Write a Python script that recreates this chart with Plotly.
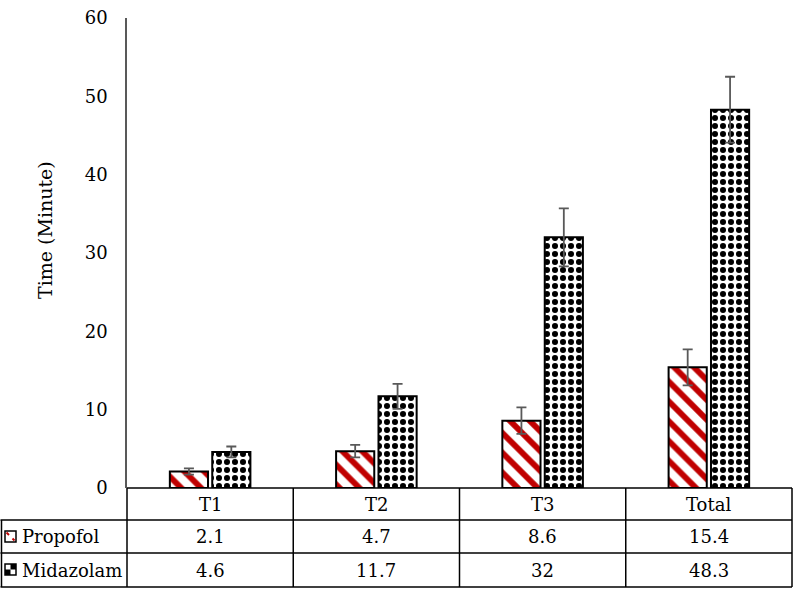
import plotly.graph_objects as go

categories = ["T1", "T2", "T3", "Total"]
propofol = [2.1, 4.7, 8.6, 15.4]
midazolam = [4.6, 11.7, 32, 48.3]
propofol_err = [0.4, 0.8, 1.7, 2.3]
midazolam_err = [0.7, 1.6, 3.7, 4.2]
y_ticks = [0, 10, 20, 30, 40, 50, 60]
series_names = ["Propofol", "Midazolam"]
y_title = "Time (Minute)"

FONT = "DejaVu Serif"
TXT = 18

W, H = 794, 598
L, R, T, B = 127, 2, 18, 110
PW, PH = W - L - R, H - T - B


def px(x):
    return (x - L) / PW


def py(y):
    return (H - B - y) / PH


fig = go.Figure()
fig.add_trace(go.Bar(
    x=categories, y=propofol, name=series_names[0], showlegend=False,
    marker=dict(color="white", line=dict(color="black", width=2),
                pattern=dict(shape="\\", fgcolor="#C00000", bgcolor="white",
                             fgopacity=1, size=14, solidity=0.42,
                             fillmode="overlay")),
    error_y=dict(type="data", array=propofol_err, color="#595959",
                 thickness=1.8, width=5),
))
fig.add_trace(go.Bar(
    x=categories, y=midazolam, name=series_names[1], showlegend=False,
    marker=dict(color="white", line=dict(color="black", width=2),
                pattern=dict(shape=".", fgcolor="black", bgcolor="white",
                             fgopacity=1, size=8, solidity=0.45,
                             fillmode="overlay")),
    error_y=dict(type="data", array=midazolam_err, color="#595959",
                 thickness=1.8, width=5),
))

# table grid
row_px = [488, 520, 553, 587]
row_y = [py(v) for v in row_px]
shapes = []
line = dict(color="black", width=1.5)
shapes.append(dict(type="line", xref="paper", yref="paper", x0=0, x1=1,
                   y0=0, y1=0, line=line))
for yy in row_y[1:]:
    shapes.append(dict(type="line", xref="paper", yref="paper",
                       x0=px(0.5), x1=1, y0=yy, y1=yy, line=line))
for k in range(len(categories) + 1):
    shapes.append(dict(type="line", xref="paper", yref="paper",
                       x0=k / len(categories), x1=k / len(categories),
                       y0=0, y1=row_y[-1], line=line))
shapes.append(dict(type="line", xref="paper", yref="paper",
                   x0=px(1.5), x1=px(1.5),
                   y0=row_y[1], y1=row_y[-1], line=line))

# legend keys inside the table
kx0, kx1 = px(5), px(16)
k1y0, k1y1 = py(542), py(531)
shapes.append(dict(type="rect", xref="paper", yref="paper", x0=kx0, x1=kx1,
                   y0=k1y0, y1=k1y1, fillcolor="white",
                   line=dict(color="black", width=1.5)))
shapes.append(dict(type="line", xref="paper", yref="paper",
                   x0=px(6.5), x1=px(9), y0=py(532.5), y1=py(535),
                   line=dict(color="#C00000", width=2)))
shapes.append(dict(type="line", xref="paper", yref="paper",
                   x0=px(12.5), x1=px(14.5), y0=py(538.5), y1=py(540.5),
                   line=dict(color="#C00000", width=2)))
k2y0, k2y1 = py(575), py(564)
shapes.append(dict(type="rect", xref="paper", yref="paper", x0=kx0, x1=kx1,
                   y0=k2y0, y1=k2y1, fillcolor="white",
                   line=dict(color="black", width=1.5)))
shapes.append(dict(type="rect", xref="paper", yref="paper", x0=px(10.5),
                   x1=kx1, y0=py(569.5), y1=k2y1, fillcolor="black",
                   line=dict(width=0)))
shapes.append(dict(type="rect", xref="paper", yref="paper", x0=kx0,
                   x1=px(10.5), y0=k2y0, y1=py(569.5), fillcolor="black",
                   line=dict(width=0)))

annotations = []
centers = [(row_y[i] + row_y[i + 1]) / 2 for i in range(3)]
fnt = dict(family=FONT, size=TXT, color="black")
for i, c in enumerate(categories):
    annotations.append(dict(x=c, xref="x", y=centers[0], yref="paper",
                            yanchor="middle", text=c, showarrow=False,
                            font=fnt))
    annotations.append(dict(x=c, xref="x", y=centers[1], yref="paper",
                            yanchor="middle", text=f"{propofol[i]:g}",
                            showarrow=False, font=fnt))
    annotations.append(dict(x=c, xref="x", y=centers[2], yref="paper",
                            yanchor="middle", text=f"{midazolam[i]:g}",
                            showarrow=False, font=fnt))
for name, yc in zip(series_names, centers[1:]):
    annotations.append(dict(x=px(20), xref="paper", xanchor="left",
                            y=yc, yref="paper", yanchor="middle", text=name,
                            showarrow=False, font=fnt))
# y-axis title
annotations.append(dict(x=px(45), xref="paper", xanchor="center",
                        y=py(230), yref="paper", yanchor="middle",
                        text=y_title, textangle=-90, showarrow=False,
                        font=dict(family=FONT, size=19, color="black")))

fig.update_layout(
    width=W, height=H,
    margin=dict(l=L, r=R, t=T, b=B),
    paper_bgcolor="white", plot_bgcolor="white",
    barmode="group", bargap=0.49, bargroupgap=0.1,
    showlegend=False,
    font=dict(family=FONT, size=TXT, color="black"),
    xaxis=dict(range=[-0.5, 3.5], showticklabels=False, ticks="",
               showgrid=False, showline=False, zeroline=False),
    yaxis=dict(range=[0, 60], tickvals=y_ticks, showgrid=False,
               showline=True, linecolor="#595959", linewidth=1.5,
               zeroline=False, ticks="", ticklabelstandoff=14,
               tickfont=fnt),
    shapes=shapes,
    annotations=annotations,
)

fig.write_html("out.html", config={"displayModeBar": False},
               post_script="document.body.style.margin='0';"
                           "document.body.style.padding='0';")
